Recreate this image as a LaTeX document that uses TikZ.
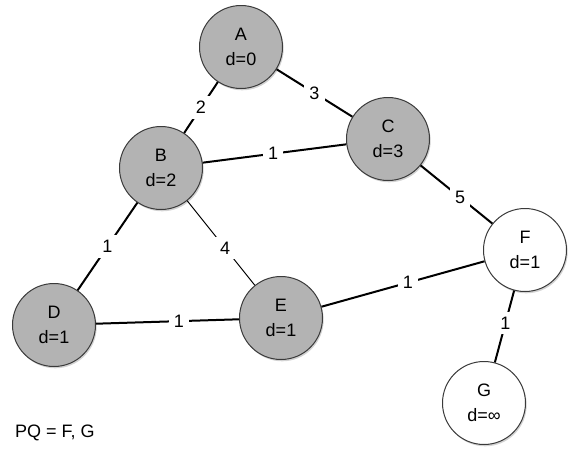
\documentclass[tikz,border=0pt]{standalone}
\usepackage{fontspec}
\setmainfont{Liberation Sans}
\usetikzlibrary{shadows}
\definecolor{nodegray}{HTML}{B3B3B3}
\definecolor{rimgray}{HTML}{3A3A3A}
\begin{document}
\begin{tikzpicture}[x=1pt,y=-1pt,
  vert/.style={circle,draw=rimgray,line width=1pt,minimum size=83pt,inner sep=0pt,align=center,
    font=\fontsize{18}{25}\selectfont,
    drop shadow={opacity=0.35,shadow xshift=1.2pt,shadow yshift=-1.8pt}},
  done/.style={vert,fill=nodegray},
  open/.style={vert,fill=white},
  edge/.style={line width=2pt,black},
  thin edge/.style={line width=1pt,black},
  wt/.style={fill=white,inner sep=5pt,font=\fontsize{18}{20}\selectfont}]
\useasboundingbox (0,0) rectangle (574,461);
\node[done] (A) at (241,47) {A\\d=0};
\node[done] (B) at (161,168) {B\\d=2};
\node[done] (C) at (388,139) {C\\d=3};
\node[done] (D) at (54,325) {D\\d=1};
\node[done] (E) at (281,318) {E\\d=1};
\node[open] (F) at (525,250) {F\\d=1};
\node[open] (G) at (484,403) {G\\d=∞};
\draw[edge] (A) -- node[wt,pos=0.5] {2} (B);
\draw[edge] (A) -- node[wt,pos=0.5] {3} (C);
\draw[edge] (B) -- node[wt,pos=0.49] {1} (C);
\draw[edge] (C) -- node[wt,pos=0.55] {5} (F);
\draw[edge] (B) -- node[wt,pos=0.5] {1} (D);
\draw[thin edge] (B) -- node[wt,pos=0.56] {4} (E);
\draw[edge] (D) -- node[wt,pos=0.58] {1} (E);
\draw[edge] (E) -- node[wt,pos=0.53] {1} (F);
\draw[edge] (F) -- node[wt,pos=0.45] {1} (G);
\node[anchor=west,font=\fontsize{18}{20}\selectfont,inner sep=0pt] (PQ) at (15,433) {PQ = F, G};
\end{tikzpicture}
\end{document}
